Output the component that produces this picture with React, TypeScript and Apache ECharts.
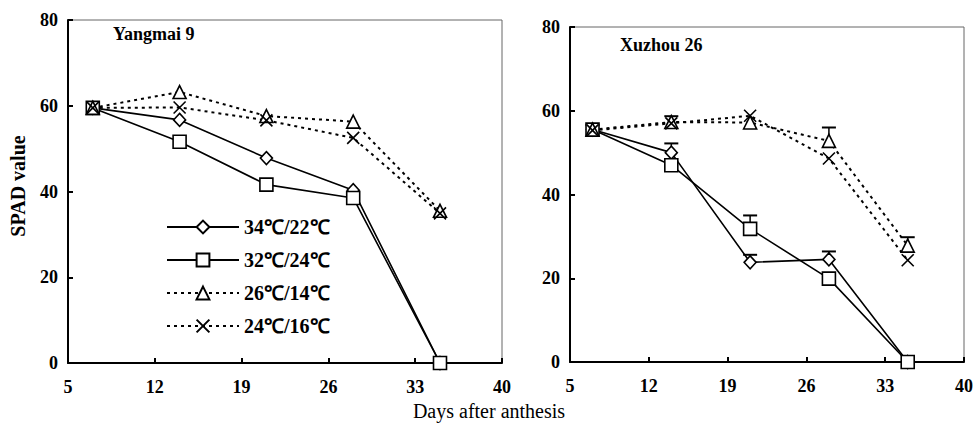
import React, { useEffect, useRef } from 'react';
import * as echarts from 'echarts';

const days = [7, 14, 21, 28, 35];
const seriesNames = ['34℃/22℃', '32℃/24℃', '26℃/14℃', '24℃/16℃'];
const panelTitles = ['Yangmai 9', 'Xuzhou 26'];
const xTicks = { min: 5, max: 40, interval: 7 };
const yTicks = { min: 0, max: 80, interval: 20 };

const yangmai_34_22 = [59.5, 56.7, 47.8, 40.3, 0];
const yangmai_32_24 = [59.5, 51.6, 41.6, 38.5, 0];
const yangmai_26_14 = [59.5, 63.2, 57.6, 56.3, 35.5];
const yangmai_24_16 = [59.5, 59.6, 56.6, 52.5, 34.9];

const xuzhou_34_22 = [55.5, 50.0, 23.8, 24.5, 0];
const xuzhou_32_24 = [55.5, 47.0, 31.8, 19.9, 0];
const xuzhou_26_14 = [55.5, 57.3, 57.2, 52.8, 27.8];
const xuzhou_24_16 = [55.3, 57.0, 58.8, 48.6, 24.3];

// upper error-bar ends (null = none visible)
const xuzhou_34_22_err = [null, 52.2, 25.6, 26.4, null];
const xuzhou_32_24_err = [null, null, 35.0, null, null];
const xuzhou_26_14_err = [56.6, 58.7, null, 56.0, 29.8];

const FONT = "'Liberation Serif', 'Times New Roman', serif";
const XPATH = 'path://M0,0L10,10M10,0L0,10';
const symbols = ['diamond', 'rect', 'triangle', XPATH];
const symbolSizes: any[] = [[12, 13], 13, 13, 12];
const dashed = [false, false, true, true];

export default function App() {
  const ref = useRef<HTMLDivElement>(null);
  useEffect(() => {
    if (!ref.current) return;
    const chart = echarts.init(ref.current, undefined, { renderer: 'svg' });
    const panels = [
      [yangmai_34_22, yangmai_32_24, yangmai_26_14, yangmai_24_16],
      [xuzhou_34_22, xuzhou_32_24, xuzhou_26_14, xuzhou_24_16],
    ];
    const grids = [
      { left: 68, top: 20, width: 434, height: 343 },
      { left: 570, top: 27, width: 394, height: 335 },
    ];
    const xAxes = grids.map((_, i) => ({
      type: 'value', gridIndex: i, ...xTicks,
      axisLine: { lineStyle: { color: '#000', width: 2 } },
      axisTick: { inside: true, length: 5, lineStyle: { color: '#000', width: 2 } },
      splitLine: { show: false },
      axisLabel: { color: '#000', fontFamily: FONT, fontWeight: 'bold', fontSize: 18, margin: 15 },
    }));
    const yAxes = grids.map((_, i) => ({
      type: 'value', gridIndex: i, ...yTicks,
      axisLine: { show: true, lineStyle: { color: '#000', width: 2 } },
      axisTick: { show: true, inside: true, length: 5, lineStyle: { color: '#000', width: 2 } },
      splitLine: { show: false },
      axisLabel: { color: '#000', fontFamily: FONT, fontWeight: 'bold', fontSize: 18, margin: 10 },
    }));
    const series: any[] = [];
    panels.forEach((panel, p) => {
      panel.forEach((vals, s) => {
        series.push({
          type: 'line', name: seriesNames[s], xAxisIndex: p, yAxisIndex: p,
          data: days.map((d, k) => [d, vals[k]]),
          symbol: symbols[s], symbolSize: symbolSizes[s], showSymbol: true,
          lineStyle: { color: '#000', width: dashed[s] ? 2 : 1.6, type: dashed[s] ? [3, 4] : 'solid' },
          itemStyle: { color: '#fff', borderColor: '#000', borderWidth: 1.6 },
          z: 3,
        });
      });
    });
    const errSets = [
      [xuzhou_34_22, xuzhou_34_22_err],
      [xuzhou_32_24, xuzhou_32_24_err],
      [xuzhou_26_14, xuzhou_26_14_err],
    ];
    const errData: any[] = [];
    errSets.forEach(([vals, errs]) => {
      days.forEach((d, k) => {
        if (errs[k] != null) errData.push([d, vals[k], errs[k]]);
      });
    });
    series.push({
      type: 'custom', xAxisIndex: 1, yAxisIndex: 1, z: 2, silent: true,
      data: errData,
      renderItem: (params: any, api: any) => {
        const base = api.coord([api.value(0), api.value(1)]);
        const top = api.coord([api.value(0), api.value(2)]);
        const cap = 7;
        return {
          type: 'group',
          children: [
            { type: 'line', shape: { x1: base[0], y1: base[1], x2: top[0], y2: top[1] }, style: { stroke: '#000', lineWidth: 1.5 } },
            { type: 'line', shape: { x1: top[0] - cap, y1: top[1], x2: top[0] + cap, y2: top[1] }, style: { stroke: '#000', lineWidth: 2 } },
          ],
        };
      },
    });
    chart.setOption({
      animation: false,
      backgroundColor: '#fff',
      grid: grids.map(g => ({ ...g, show: true, borderColor: '#666', borderWidth: 1, backgroundColor: 'transparent' })),
      xAxis: xAxes,
      yAxis: yAxes,
      legend: {
        data: seriesNames,
        orient: 'vertical', left: 166, top: 217, padding: 0,
        itemWidth: 72, itemHeight: 16, itemGap: 13,
        textStyle: { color: '#000', fontFamily: FONT, fontWeight: 'bold', fontSize: 20, padding: 0 },
        selectedMode: false,
      },
      graphic: [
        { type: 'text', left: 113, top: 25, style: { text: panelTitles[0], font: `bold 18px ${FONT}`, fill: '#000' } },
        { type: 'text', left: 620, top: 36, style: { text: panelTitles[1], font: `bold 18px ${FONT}`, fill: '#000' } },
        { type: 'text', x: 18, y: 186, rotation: Math.PI / 2, style: { text: 'SPAD value', font: `bold 20px ${FONT}`, fill: '#000', align: 'center', verticalAlign: 'middle' } },
        { type: 'text', x: 489, y: 411, style: { text: 'Days after anthesis', font: `20px ${FONT}`, fill: '#000', align: 'center', verticalAlign: 'middle' } },
      ],
      series,
    });
    return () => chart.dispose();
  }, []);
  return <div ref={ref} style={{ position: 'fixed', left: 0, top: 0, width: 977, height: 427 }} />;
}
